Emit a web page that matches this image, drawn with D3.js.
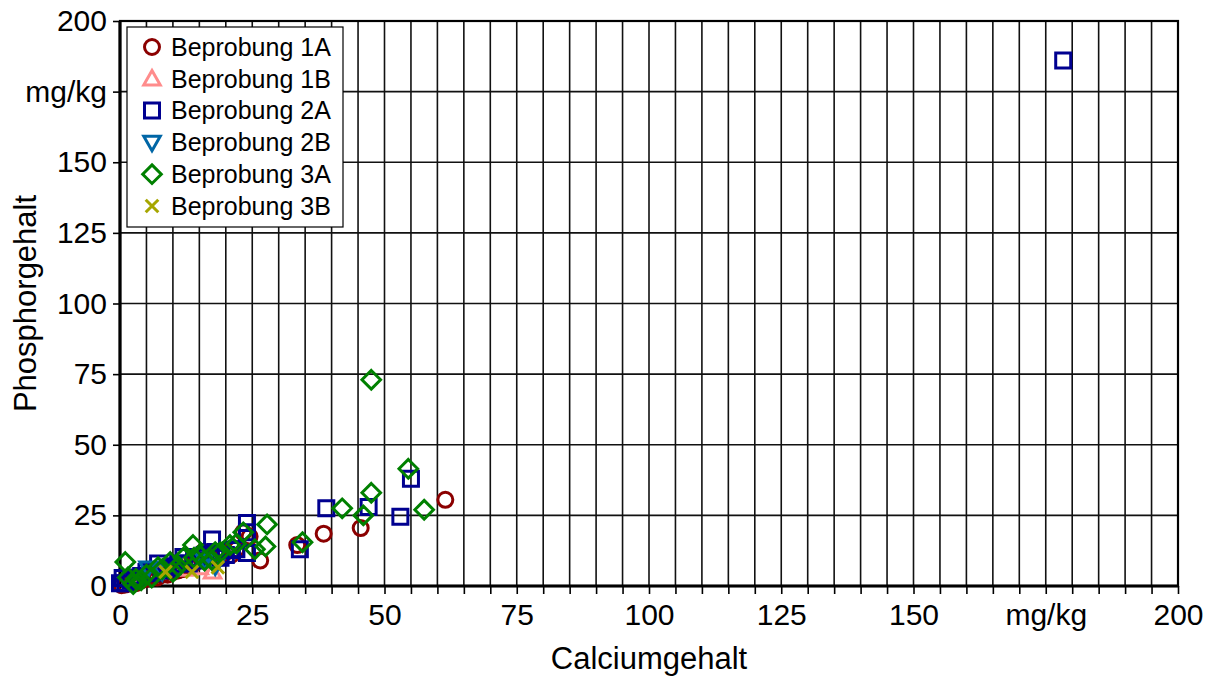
<!DOCTYPE html>
<html><head><meta charset="utf-8">
<script src="https://cdn.jsdelivr.net/npm/d3@7"></script>
<style>body{margin:0;background:#fff}svg{display:block}text{font-family:"Liberation Sans",Arial,sans-serif}</style>
</head><body><svg id="c" width="1217" height="678"></svg>
<script>
// ---- data ----
const seriesNames = ["Beprobung 1A","Beprobung 1B","Beprobung 2A","Beprobung 2B","Beprobung 3A","Beprobung 3B"];
const s1A_x = [0.3, 1, 2, 3, 4, 5, 6, 7, 8, 9, 10, 11, 12, 13, 14, 15.7, 17, 19, 20, 21, 22, 23.3, 24.5, 26.5, 33.5, 38.5, 45.5, 61.5];
const s1A_y = [0.3, 0.5, 1.5, 1, 2, 2.5, 3, 3, 4, 4, 5, 5.5, 6, 7, 8, 12, 9.5, 10, 12, 11, 13, 19, 17.5, 9, 14.5, 18.5, 20.5, 30.5];
const s1B_x = [12, 15, 17.5];
const s1B_y = [6, 6.5, 5];
const s2A_x = [0, 0.5, 1, 2, 3, 4, 5, 6, 7.2, 8, 9, 10, 11, 12, 13, 14, 15, 16, 17.4, 18, 19, 20, 21, 22, 24, 24, 24, 34, 39, 47, 53, 55, 178.3];
const s2A_y = [1, 2.8, 1, 2, 3, 3.5, 5, 4.5, 8, 5.5, 6, 7, 8, 10.3, 8, 9, 10, 11, 16.5, 12, 10, 11, 12.7, 13, 22.3, 19, 11.7, 13, 27.5, 28, 24.5, 38, 186];
const s2B_x = [5.3, 8, 16, 18];
const s2B_y = [6.3, 5, 9, 7];
const s3A_x = [1, 1.5, 2.5, 3, 4, 5, 6, 7.2, 8, 9.5, 10, 11, 12, 13.8, 14, 15, 16, 17.4, 18, 19, 20.8, 22, 23.3, 25.5, 27.5, 27.8, 34.5, 42, 46, 47.5, 47.5, 54.5, 57.5];
const s3A_y = [8.5, 3, 0.7, 2.5, 2, 4, 3, 6.7, 6, 8.5, 5, 7, 10, 14.5, 10, 11, 9, 9.2, 12, 12, 14.5, 15, 19, 13, 14, 21.8, 15.5, 27.5, 25, 33, 73, 41.5, 27];
const s3B_x = [8.6, 13.6, 18.5];
const s3B_y = [5, 5, 6.6];
const xTicks = [0, 25, 50, 75, 100, 125, 150, 175, 200];
const yTicks = [0, 25, 50, 75, 100, 125, 150, 175, 200];
const unitLabel = "mg/kg";
const xTitle = "Calciumgehalt";
const yTitle = "Phosphorgehalt";

// ---- styles ----
const colors = ["#8b0000", "#ff8c8c", "#000090", "#0066a6", "#008000", "#a6a600"];
const shapes = ["circle", "triangleUp", "square", "triangleDown", "diamond", "cross"];
const seriesData = [[s1A_x,s1A_y],[s1B_x,s1B_y],[s2A_x,s2A_y],[s2B_x,s2B_y],[s3A_x,s3A_y],[s3B_x,s3B_y]];

const svg = d3.select("#c");
const x = d3.scaleLinear().domain([0, 200]).range([120, 1178]);
const y = d3.scaleLinear().domain([0, 200]).range([586, 21]);

// grid
const g = svg.append("g");
g.selectAll("line.v").data(d3.range(5, 200, 5)).join("line")
  .attr("x1", d => x(d)).attr("x2", d => x(d)).attr("y1", y(0)).attr("y2", y(200))
  .attr("stroke", "#111").attr("stroke-width", 1.6);
g.selectAll("line.h").data(yTicks.filter(d => d > 0 && d < 200)).join("line")
  .attr("x1", x(0)).attr("x2", x(200)).attr("y1", d => y(d)).attr("y2", d => y(d))
  .attr("stroke", "#111").attr("stroke-width", 1.6);
// frame
svg.append("rect").attr("x", x(0)).attr("y", y(200)).attr("width", x(200) - x(0)).attr("height", y(0) - y(200))
  .attr("fill", "none").attr("stroke", "#000").attr("stroke-width", 2.2);

const fmt = d => d === 175 ? unitLabel : String(d);
const tickFont = 30;

// x axis
const xa = svg.append("g").attr("transform", `translate(0,${y(0)})`)
  .call(d3.axisBottom(x).tickValues(d3.range(0, 201, 5)).tickSize(8).tickPadding(10)
    .tickFormat(d => d % 25 === 0 ? fmt(d) : ""));
xa.select(".domain").attr("stroke-width", 3.2).attr("d", `M${x(0)-1.5},0H${x(200)}`);
xa.selectAll(".tick line").attr("stroke-width", 1.6);
xa.selectAll("text").attr("font-size", tickFont).attr("font-family", "Liberation Sans, Arial, sans-serif").attr("fill", "#000");

// y axis
const ya = svg.append("g").attr("transform", `translate(${x(0)},0)`)
  .call(d3.axisLeft(y).tickValues(yTicks).tickSize(7).tickPadding(6).tickFormat(fmt));
ya.select(".domain").attr("stroke-width", 3.2).attr("d", `M0,${y(0)+1.5}V${y(200)}`);
ya.selectAll(".tick line").attr("stroke-width", 1.6);
ya.selectAll("text").attr("font-size", tickFont).attr("font-family", "Liberation Sans, Arial, sans-serif").attr("fill", "#000");

// titles
svg.append("text").attr("x", x(100)).attr("y", 669).attr("text-anchor", "middle")
  .attr("font-size", 31).text(xTitle);
svg.append("text").attr("transform", `translate(36,${y(100)}) rotate(-90)`).attr("text-anchor", "middle")
  .attr("font-size", 31).text(yTitle);

// marker shapes
function markerPath(shape, s) {
  switch (shape) {
    case "circle": return d3.arc()({innerRadius:0, outerRadius:s*0.5, startAngle:0, endAngle:2*Math.PI});
    case "square": return `M${-s/2},${-s/2}h${s}v${s}h${-s}Z`;
    case "diamond": { const r = s*0.62; return `M0,${-r}L${r},0L0,${r}L${-r},0Z`; }
    case "triangleUp": { const r = s*0.55; return `M0,${-r}L${r},${r*0.75}L${-r},${r*0.75}Z`; }
    case "triangleDown": { const r = s*0.55; return `M0,${r}L${r},${-r*0.75}L${-r},${-r*0.75}Z`; }
    case "cross": { const r = s*0.42; return `M${-r},${-r}L${r},${r}M${-r},${r}L${r},${-r}`; }
  }
}

const size = 15;
seriesData.forEach(([xs, ys], i) => {
  const pts = xs.map((v, k) => [v, ys[k]]);
  svg.append("g").selectAll("path").data(pts).join("path")
    .attr("transform", d => `translate(${x(d[0])},${y(d[1])})`)
    .attr("d", markerPath(shapes[i], size))
    .attr("fill", "none").attr("stroke", colors[i]).attr("stroke-width", 3);
});

// legend
const lg = svg.append("g");
lg.append("rect").attr("x", 127).attr("y", 27).attr("width", 216).attr("height", 200)
  .attr("fill", "#fff").attr("stroke", "#000").attr("stroke-width", 1.2);
seriesNames.forEach((n, i) => {
  const yy = 47 + i * 31.8;
  lg.append("path").attr("transform", `translate(152,${yy})`).attr("d", markerPath(shapes[i], 15))
    .attr("fill", "none").attr("stroke", colors[i]).attr("stroke-width", 3);
  lg.append("text").attr("x", 171).attr("y", yy).attr("dy", "0.35em").attr("font-size", 25).text(n);
});
</script></body></html>
